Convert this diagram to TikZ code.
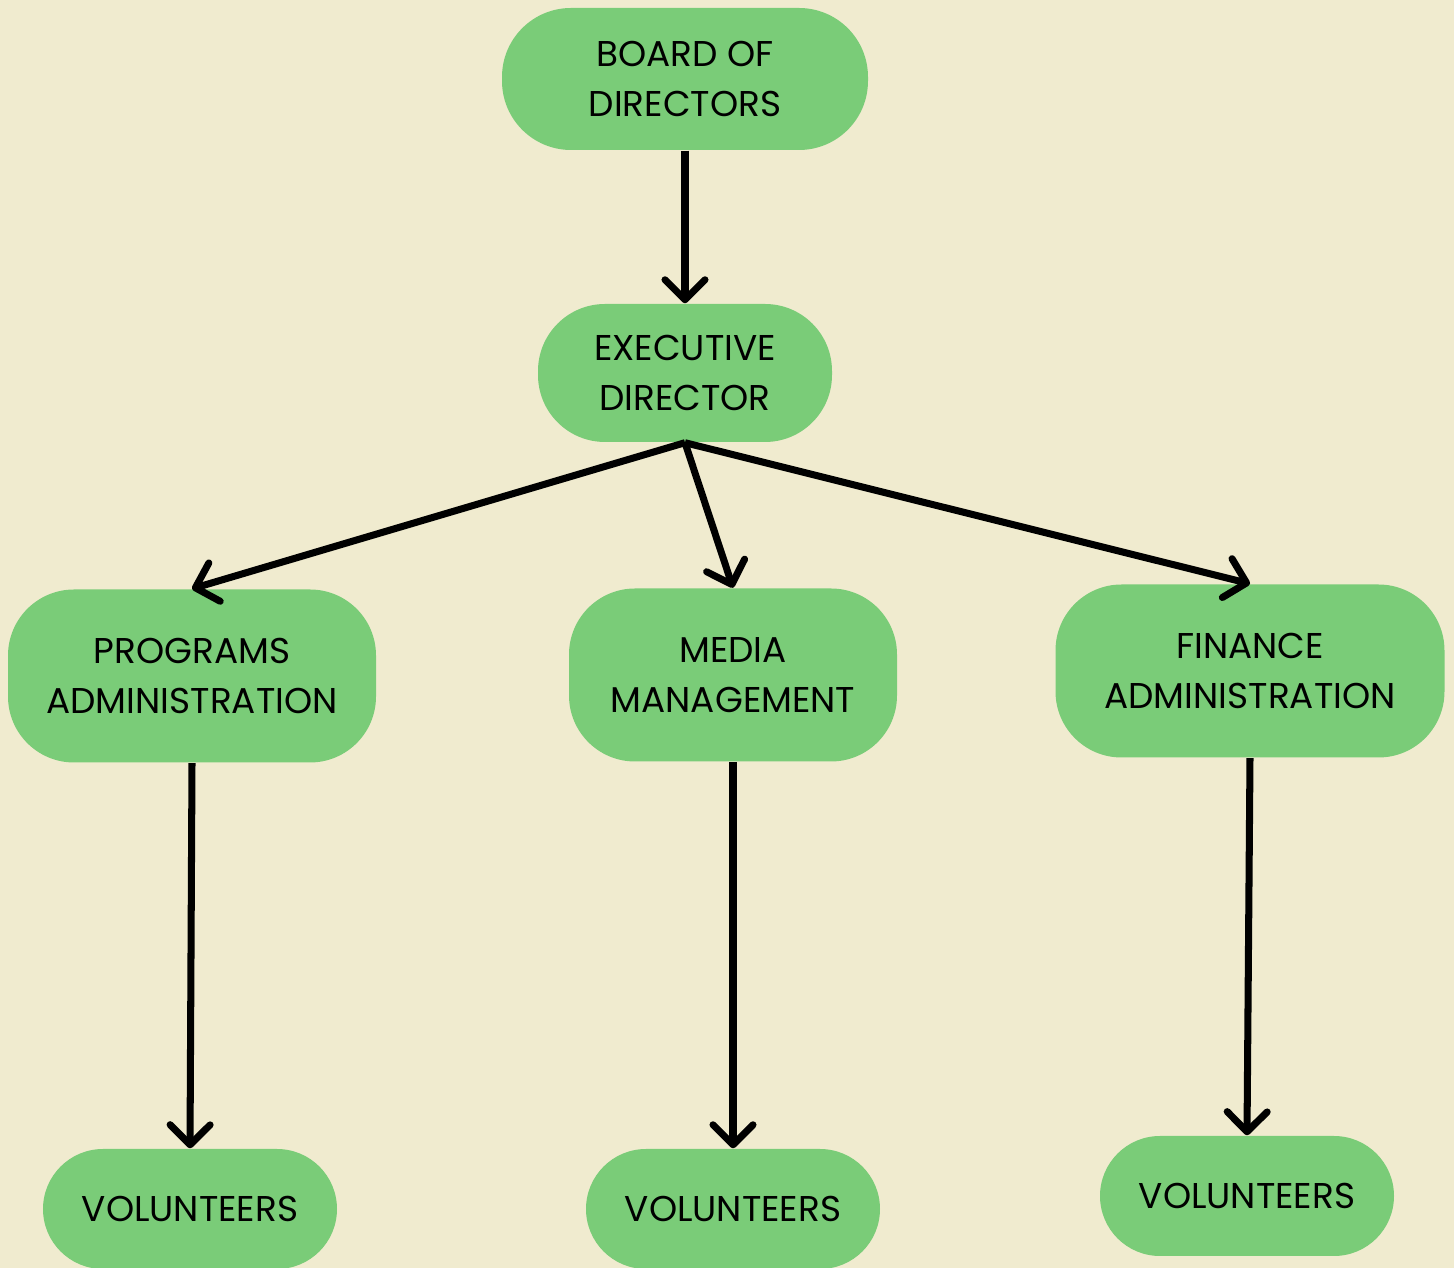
\documentclass[tikz,border=0pt]{standalone}
\usepackage{fontspec}
\setmainfont{Poppins}
\usetikzlibrary{arrows.meta}
\definecolor{paper}{HTML}{F0EBCF}
\definecolor{leaf}{HTML}{7ACC78}

\begin{document}
\begin{tikzpicture}[
    box/.style={fill=leaf, rounded corners=#1, inner sep=0pt, align=center,
        font=\fontsize{10.2pt}{14.2pt}\selectfont},
    box/.default=0.66cm,
    link/.style={line width=2pt, -{Straight Barb[length=2mm, width=4mm, line cap=round, round]}}
    ]
        \fill[paper] (0,0) rectangle (14.54,-12.68);
        \useasboundingbox (0,0) rectangle (14.54,-12.68);
        \begin{scope}
            \node[box=0.69cm, minimum width=3.66cm, minimum height=1.42cm](BD) at (6.85,-0.79){BOARD OF\\DIRECTORS};
            \node[box=0.67cm, minimum width=2.94cm, minimum height=1.38cm](ED) at (6.85,-3.73){EXECUTIVE\\DIRECTOR};
            \node[box, minimum width=3.68cm, minimum height=1.73cm](PA) at (1.92,-6.76){PROGRAMS\\ADMINISTRATION};
            \node[box, minimum width=3.28cm, minimum height=1.73cm](MM) at (7.33,-6.75){MEDIA\\MANAGEMENT};
            \node[box, minimum width=3.89cm, minimum height=1.73cm](FA) at (12.50,-6.71){FINANCE\\ADMINISTRATION};
            \node[box=0.6cm, minimum width=2.94cm, minimum height=1.20cm](PV) at (1.90,-12.09){VOLUNTEERS};
            \node[box=0.6cm, minimum width=2.94cm, minimum height=1.20cm](MV) at (7.33,-12.09){VOLUNTEERS};
            \node[box=0.6cm, minimum width=2.94cm, minimum height=1.20cm](FV) at (12.47,-11.96){VOLUNTEERS};
        \end{scope}
        \draw[link] (BD.south) -- (ED.north);
        \draw[link] (ED.south) -- (PA.north);
        \draw[link] (ED.south) -- (MM.north);
        \draw[link] (ED.south) -- (FA.north);
        \draw[link] (PA.south) -- (PV.north);
        \draw[link] (MM.south) -- (MV.north);
        \draw[link] (FA.south) -- (FV.north);
    \end{tikzpicture}
\end{document}
